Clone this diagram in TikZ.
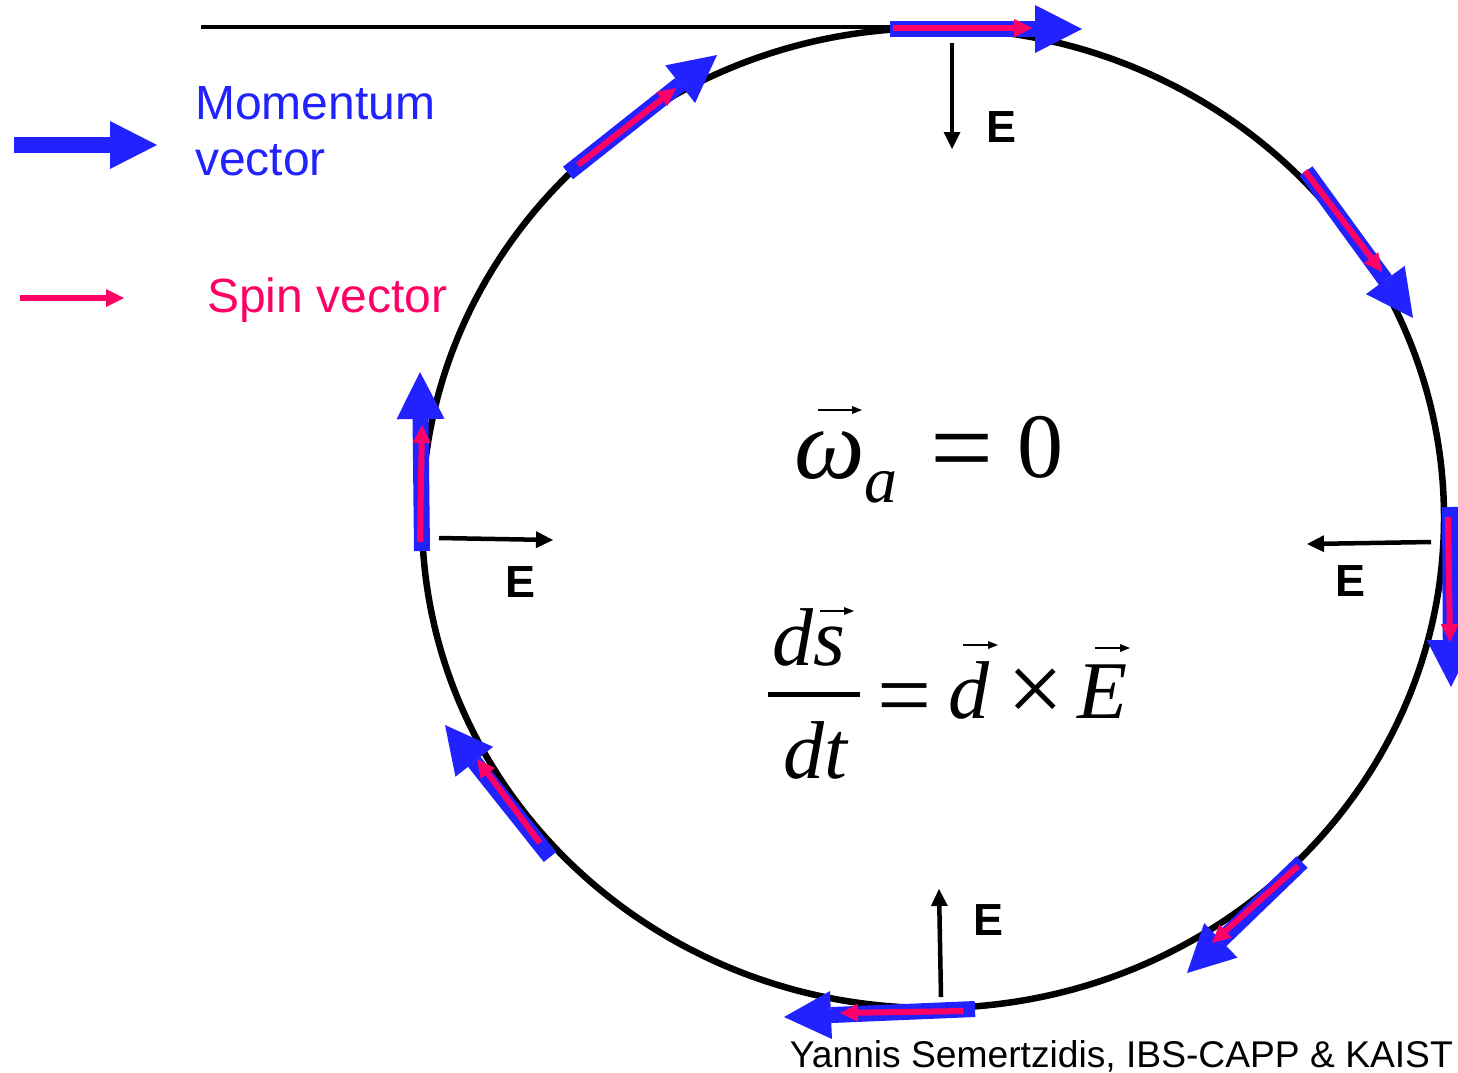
\documentclass[tikz,border=0pt]{standalone}
\usepackage{fontspec}
\setmainfont{Liberation Sans}
\newfontfamily\eqfont{Liberation Serif}
\usetikzlibrary{arrows.meta}
\definecolor{mom}{HTML}{2222FF}
\definecolor{spin}{HTML}{FF0066}
\begin{document}
\begin{tikzpicture}[x=1pt,y=-1pt,
  momarrow/.style={draw=mom, line width=16pt, -{Triangle[length=47pt,width=48pt,line width=0pt]}},
  spinarrow/.style={draw=spin, line width=6pt, -{Triangle[length=18pt,width=18pt,line width=0pt]}},
  efield/.style={draw=black, line width=4.5pt, -{Triangle[length=17pt,width=17pt,line width=0pt]}},
  elabel/.style={font=\fontsize{45}{54}\selectfont\bfseries, inner sep=0pt},
  ring/.style={draw=black, line width=6.5pt},
  eqbig/.style={font=\eqfont\fontsize{92}{100}\selectfont, inner sep=0pt},
  eqmid/.style={font=\eqfont\fontsize{82}{90}\selectfont, inner sep=0pt},
  legendtxt/.style={inner sep=0pt, font=\fontsize{48}{56}\selectfont},
  vecacc/.style={draw=black, line width=2.5pt, -{Triangle[length=10pt,width=8pt,line width=0pt]}}]
\useasboundingbox (0,0) rectangle (1458,1072);
% top line and ring
\draw[line width=4pt] (201,27) coordinate (lineL) -- (897,27) coordinate (lineR);
\draw[ring] (933,518) ellipse [x radius=511, y radius=490];
% momentum vectors
\foreach \sx/\sy/\tx/\ty in {890/29/1082/29, 568/173/717/55, 1306/171/1413/318, 1450/507/1451/687,
  1302/862/1187/973, 975/1009/784/1017, 550/857/445/725, 422/551/420/372, 14/145/157/145}
  \draw[momarrow] (\sx,\sy) -- (\tx,\ty);
% spin vectors
\foreach \sx/\sy/\tx/\ty in {893/28/1032/28, 578/165/676/88, 1305/171/1382/272, 1448/517/1450/642,
  1298/866/1212/943, 963/1011/840/1013, 540/843/477/759, 420/542/422/425, 20/298/124/298}
  \draw[spinarrow] (\sx,\sy) -- (\tx,\ty);
% E field arrows
\draw[efield] (952,43) coordinate (eT0) -- (952,149) coordinate (eT1);
\draw[efield] (439,538) coordinate (eL0) -- (553,540) coordinate (eL1);
\draw[efield] (1431,542) coordinate (eR0) -- (1307,544) coordinate (eR1);
\draw[efield] (941,997) coordinate (eB0) -- (939,889) coordinate (eB1);
\node[elabel] (ET) at (1001,127) {E};
\node[elabel] (EL) at (520,582) {E};
\node[elabel] (ER) at (1350,581) {E};
\node[elabel] (EB) at (988,920) {E};
% legend
\node[legendtxt, anchor=base west, text=mom] (momtxt) at (195,119) {Momentum};
\node[legendtxt, anchor=base west, text=mom] (vectxt) at (195,175) {vector};
\node[legendtxt, anchor=base west, text=spin] (spintxt) at (207,312) {Spin vector};
% equation 1
\node[eqbig, anchor=base, font=\eqfont\fontsize{100}{110}\selectfont] (omega) at (830,478) {\itshape ω};
\node[eqbig, anchor=base, font=\eqfont\fontsize{66}{70}\selectfont] (suba) at (881,502) {\itshape a};
\node[eqbig, anchor=center, font=\eqfont\fontsize{112}{120}\selectfont] (eq1) at (962,460) {=};
\node[eqbig, anchor=center] (zero) at (1040,447) {0};
\draw[vecacc] (818,410) -- (862,410);
% equation 2
\node[eqmid, anchor=base] (num) at (809,665) {\itshape ds};
\draw[vecacc] (820,611) -- (854,611);
\draw[line width=5pt] (768,694) coordinate (barL) -- (860,694) coordinate (barR);
\node[eqmid, anchor=base] (den) at (815,778) {\itshape dt};
\node[eqmid, anchor=center, font=\eqfont\fontsize{96}{100}\selectfont] (eq2) at (905,706) {=};
\node[eqmid, anchor=base] (dd) at (969,718) {\itshape d};
\draw[vecacc] (963,645) -- (998,645);
\node[eqmid, anchor=center, font=\eqfont\fontsize{100}{110}\selectfont] (times) at (1036,696) {×};
\node[eqmid, anchor=base] (EE) at (1103,718) {\itshape E};
\draw[vecacc] (1095,648) -- (1130,648);
% footer
\node[anchor=base east, inner sep=0pt, font=\fontsize{37.2}{40}\selectfont] (footer) at (1453,1067) {Yannis Semertzidis, IBS-CAPP \& KAIST};
\end{tikzpicture}
\end{document}
